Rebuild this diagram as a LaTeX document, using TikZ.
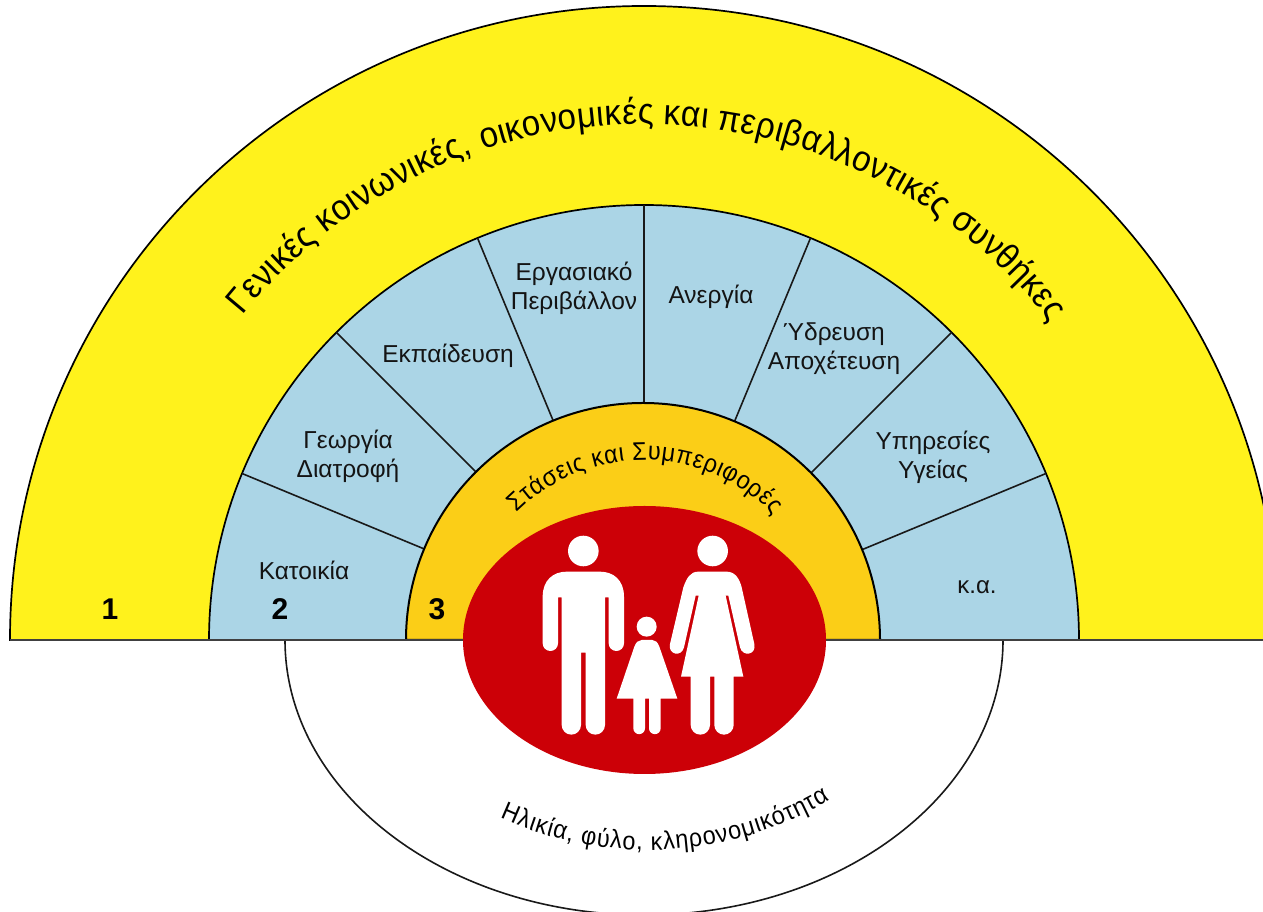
\documentclass[tikz,border=0pt]{standalone}
\usepackage{fontspec}
\setmainfont{Liberation Sans}
\newfontfamily\narrowsans[FakeStretch=0.92]{Liberation Sans}
\usetikzlibrary{decorations.text,calc}
\newcommand{\fsTitle}{\narrowsans\fontsize{36}{42}\selectfont}
\newcommand{\fsCurve}{\narrowsans\fontsize{25.5}{28}\selectfont}
\newcommand{\fsLabel}{\fontsize{24.5}{29}\selectfont}
\newcommand{\fsNum}{\fontsize{30}{34}\selectfont\bfseries}
\definecolor{cyellow}{HTML}{FFF21C}
\definecolor{cblue}{HTML}{ABD5E6}
\definecolor{corange}{HTML}{FBCE17}
\definecolor{cred}{HTML}{CC0007}
\definecolor{cbase}{HTML}{404040}
\tikzset{
  ring/.style={draw=black,line width=1.7pt},
  divider/.style={draw=black!90,line width=1.6pt},
  sectorlabel/.style={font=\fsLabel,align=center,inner sep=0pt,text=black!92},
  numlabel/.style={font=\fsNum,inner sep=0pt,text=black},
  person/.style={fill=white,draw=none},
}
\begin{document}
\begin{tikzpicture}[x=1pt,y=1pt]
\useasboundingbox (0,0) rectangle (1263,912);
\fill[white] (0,0) rectangle (1263,912);
\begin{scope}
\clip (0,0) rectangle (1263,912);
\coordinate (c) at (644,272);
% rings
\draw[ring,fill=cyellow] (10,272) arc[start angle=180,end angle=0,radius=634] -- cycle;
\draw[ring,fill=cblue] (209,272) arc[start angle=180,end angle=0,radius=435] -- cycle;
\foreach \a in {22.5,45,67.5,90,112.5,135,157.5}
  \draw[divider] ($(c)+(\a:237)$) -- ($(c)+(\a:435)$);
\draw[ring,line width=2pt,fill=corange] (406,272) arc[start angle=180,end angle=0,radius=237] -- cycle;
% lower white arc
\draw[divider] (285,272) arc[start angle=180,end angle=360,x radius=359,y radius=275];
% base line
\draw[draw=cbase,line width=2pt] (10,272) -- (1263,272);
% red ellipse
\fill[cred] (644.5,272) ellipse[x radius=181.5,y radius=134];
% curved texts
\path[decorate,decoration={text along path,text align={fit to path},
  text={|\fsTitle|Γενικές κοινωνικές, οικονομικές και περιβαλλοντικές συνθήκες}}]
  ($(c)+(141:516)$) arc[start angle=141,end angle=38,radius=516];
\path[decorate,decoration={text along path,text align={fit to path},
  text={|\fsCurve|Στάσεις και Συμπεριφορές}}]
  ($(c)+(135:180)$) arc[start angle=135,end angle=44,radius=180];
\coordinate (b) at (648,419);
\path[decorate,decoration={text along path,text align={fit to path},
  text={|\fsCurve|Ηλικία, φύλο, κληρονομικότητα}}]
  ($(b)+(245.5:357)$) arc[start angle=245.5,end angle=300.7,radius=357];
% people, in coordinates of the enlarged crop
\begin{scope}[shift={(450,412)},x=0.33333pt,y=-0.33333pt]
  % man
  \fill[person] (400,153) circle[radius=15.3pt];
  \fill[person] (278,430) -- (278,290) .. controls (278,240) and (310,215) .. (350,215)
    -- (450,215) .. controls (490,215) and (522,240) .. (522,290) -- (522,430)
    arc[start angle=0,end angle=-180,radius=7.67pt] -- (476,292) -- (465,292) -- (465,675)
    arc[start angle=0,end angle=-180,radius=9.67pt] -- (407,458) -- (393,458) -- (393,675)
    arc[start angle=0,end angle=-180,radius=9.67pt] -- (335,292) -- (324,292) -- (324,430)
    arc[start angle=0,end angle=-180,radius=7.67pt] -- cycle;
  % woman
  \fill[person] (788,153) circle[radius=15.3pt];
  \fill[person] (660,432) -- (700,262) .. controls (710,235) and (720,215) .. (745,215)
    -- (830,215) .. controls (855,215) and (868,235) .. (875,262) -- (913,432)
    .. controls (920,465) and (878,472) .. (870,442) -- (835,287) -- (827,287) -- (880,530)
    -- (851,530) -- (851,675) arc[start angle=0,end angle=-180,radius=9.67pt]
    -- (793,530) -- (780,530) -- (780,675) arc[start angle=0,end angle=-180,radius=9.67pt]
    -- (722,530) -- (693,530) -- (746,287) -- (737,287) -- (702,442)
    .. controls (695,472) and (653,465) .. (660,432) -- cycle;
  % girl
  \fill[person] (590,380) circle[radius=10pt];
  \fill[person] (500,596) -- (553,440) .. controls (558,427) and (565,420) .. (575,420)
    -- (607,420) .. controls (617,420) and (623,427) .. (628,440) -- (682,596) -- (632,596)
    -- (632,685) arc[start angle=0,end angle=-180,radius=5.83pt] -- (597,596) -- (585,596)
    -- (585,685) arc[start angle=0,end angle=-180,radius=5.83pt] -- (550,596) -- cycle;
\end{scope}
% sector labels
\node[sectorlabel] (housing) at (304,342) {Κατοικία};
\node[sectorlabel] (food) at (348,456) {Γεωργία\\Διατροφή};
\node[sectorlabel] (edu) at (448,556) {Εκπαίδευση};
\node[sectorlabel] (work) at (574,624) {Εργασιακό\\Περιβάλλον};
\node[sectorlabel] (unemp) at (711,615) {Ανεργία};
\node[sectorlabel] (water) at (834,563) {Ύδρευση\\Αποχέτευση};
\node[sectorlabel] (health) at (933,455) {Υπηρεσίες\\Υγείας};
\node[sectorlabel,font=\fontsize{24}{28}\selectfont] (etc) at (977,325) {κ.α.};
\node[numlabel] (n1) at (110,303) {1};
\node[numlabel] (n2) at (280,303) {2};
\node[numlabel] (n3) at (437,303) {3};
\end{scope}
\end{tikzpicture}
\end{document}
